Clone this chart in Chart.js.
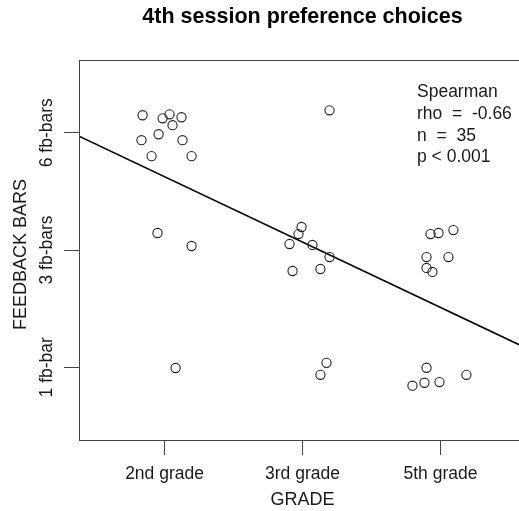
<!DOCTYPE html>
<html><head><meta charset="utf-8">
<script src="https://cdn.jsdelivr.net/npm/chart.js@4"></script>
<style>
html,body{margin:0;padding:0;overflow:hidden;background:#fff;width:519px;height:511px}
#wrap{width:540px;height:511px}
</style></head>
<body><div id="wrap"><canvas id="c" width="540" height="511"></canvas></div>
<script>
const gradeLabels = ['2nd grade', '3rd grade', '5th grade'];
const gradeTicks = [1, 2, 3];
const barLabels = ['1 fb-bar', '3 fb-bars', '6 fb-bars'];
const barTicks = [1, 2, 3];

const grade2X = [0.841, 0.986, 1.036, 1.123, 1.058, 0.957, 0.833, 1.130, 0.906, 1.196, 0.949, 1.196, 1.080];
const grade2Y = [3.149, 3.123, 3.157, 3.132, 3.064, 2.987, 2.936, 2.936, 2.800, 2.800, 2.145, 2.034, 0.994];
const grade3X = [2.196, 1.993, 1.971, 1.906, 2.072, 2.196, 1.928, 2.130, 2.174, 2.130];
const grade3Y = [3.191, 2.196, 2.136, 2.051, 2.043, 1.940, 1.821, 1.838, 1.038, 0.936];
const grade5X = [2.928, 2.986, 3.094, 2.899, 3.058, 2.899, 2.942, 2.899, 3.188, 2.884, 2.993, 2.797];
const grade5Y = [2.136, 2.145, 2.170, 1.940, 1.940, 1.847, 1.813, 0.996, 0.936, 0.868, 0.874, 0.843];

const fitX = [0.38, 3.62];
const fitY = [2.97, 1.165];

const statsLines = ['Spearman', 'rho  =  -0.66', 'n  =  35', 'p < 0.001'];
const yTitle = 'FEEDBACK BARS';

const FONT = '"Liberation Sans", Arial, Helvetica, sans-serif';
const TXT = '#1a1a1a';
const AX = '#444';

function pts(xs, ys) { return xs.map((x, i) => ({ x: x, y: ys[i] })); }
const pointStyle = {
  type: 'scatter', pointRadius: 4.6, pointHoverRadius: 4.6, pointBorderWidth: 1.1,
  borderColor: '#222', backgroundColor: 'rgba(0,0,0,0)', pointBackgroundColor: 'rgba(0,0,0,0)'
};

const decor = {
  id: 'decor',
  afterDraw(chart) {
    const { ctx, chartArea: a, scales: { y } } = chart;
    ctx.save();
    ctx.strokeStyle = AX; ctx.lineWidth = 1;
    ctx.strokeRect(Math.round(a.left) + 0.5, Math.round(a.top) + 0.5,
                   Math.round(a.right - a.left), Math.round(a.bottom - a.top));
    ctx.fillStyle = TXT;
    ctx.font = '17.5px ' + FONT;
    ctx.textAlign = 'center'; ctx.textBaseline = 'alphabetic';
    barTicks.forEach((v, i) => {
      const py = y.getPixelForValue(v);
      ctx.save(); ctx.translate(a.left - 27, py); ctx.rotate(-Math.PI / 2);
      ctx.fillText(barLabels[i], 0, 0); ctx.restore();
    });
    ctx.font = '18px ' + FONT;
    ctx.save(); ctx.translate(a.left - 53, (a.top + a.bottom) / 2 + 4.5); ctx.rotate(-Math.PI / 2);
    ctx.fillText(yTitle, 0, 0); ctx.restore();
    ctx.font = '17.5px ' + FONT;
    ctx.textAlign = 'left';
    statsLines.forEach((t, i) => ctx.fillText(t, a.left + 338, a.top + 37.3 + i * 21.7));
    ctx.restore();
  }
};

new Chart(document.getElementById('c'), {
  type: 'scatter',
  data: {
    datasets: [
      Object.assign({ label: '2nd grade', data: pts(grade2X, grade2Y) }, pointStyle),
      Object.assign({ label: '3rd grade', data: pts(grade3X, grade3Y) }, pointStyle),
      Object.assign({ label: '5th grade', data: pts(grade5X, grade5Y) }, pointStyle),
      { label: 'fit', type: 'line', data: pts(fitX, fitY), showLine: true, pointRadius: 0,
        borderColor: '#000', borderWidth: 1.6, fill: false, tension: 0 }
    ]
  },
  options: {
    responsive: false, animation: false, devicePixelRatio: 1,
    events: [],
    layout: { padding: { left: 0, right: 14, top: 0, bottom: 0 } },
    plugins: {
      legend: { display: false }, tooltip: { enabled: false },
      title: { display: true, text: '4th session preference choices', fullSize: false,
        font: { family: FONT, size: 21.5, weight: 'bold' }, color: '#000',
        padding: { top: 4.6, bottom: 29.6 } }
    },
    scales: {
      x: {
        type: 'linear', min: 0.38, max: 3.62,
        afterBuildTicks: s => { s.ticks = gradeTicks.map(v => ({ value: v })); },
        ticks: { callback: (v, i) => gradeLabels[i], font: { family: FONT, size: 17.5 }, color: TXT,
          padding: 9, maxRotation: 0, minRotation: 0, autoSkip: false },
        grid: { display: true, drawOnChartArea: false, drawTicks: true, tickLength: 15, color: AX, tickColor: AX, lineWidth: 1 },
        border: { display: false },
        title: { display: true, text: 'GRADE', font: { family: FONT, size: 18 }, color: TXT, padding: { top: 0, bottom: 0 } },
        afterFit: s => { s.height = 71; }
      },
      y: {
        type: 'linear', min: 0.38, max: 3.62,
        afterBuildTicks: s => { s.ticks = barTicks.map(v => ({ value: v })); },
        ticks: { display: false },
        grid: { display: true, drawOnChartArea: false, drawTicks: true, tickLength: 15, color: AX, tickColor: AX, lineWidth: 1 },
        border: { display: false },
        title: { display: false },
        afterFit: s => { s.width = 79; }
      }
    }
  },
  plugins: [decor]
});
</script>
</body></html>
